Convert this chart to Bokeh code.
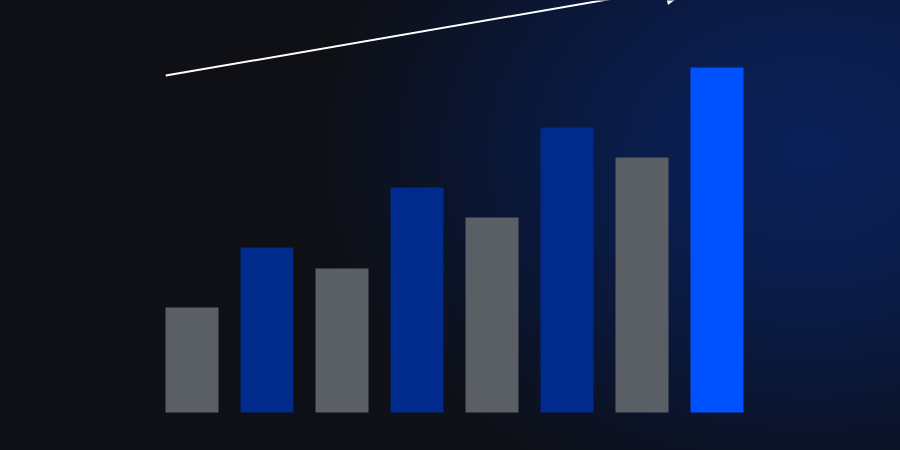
from bokeh.plotting import figure
from bokeh.models import ColumnDataSource, Range1d, Arrow, NormalHead, GlobalInlineStyleSheet
from bokeh.embed import file_html
from bokeh.resources import INLINE

# ---- data ----
periods = ["P1", "P2", "P3", "P4", "P5", "P6", "P7", "P8"]
values = [35, 55, 48, 75, 65, 95, 85, 115]
series_kind = ["base", "growth", "base", "growth", "base", "growth", "base", "peak"]

# trend arrow (data units)
trend_start = (-0.35, 112.3)
trend_end = (6.71, 142.7)

# ---- styles ----
kind_colors = {"base": "#5a5f66", "growth": "#002a8c", "peak": "#0051ff"}
colors = [kind_colors[k] for k in series_kind]

source = ColumnDataSource(dict(
    x=list(range(len(periods))),
    period=periods,
    value=values,
    color=colors,
))

css = GlobalInlineStyleSheet(css="""
html, body {
  background-color: #0e1015;
  background-image: radial-gradient(ellipse 500px 380px at 810px 150px,
      #0a2058 0%, #0a1d4d 30%, #0a1738 60%, #0c1222 84%, #0e1015 100%);
  background-repeat: no-repeat;
  min-height: 100vh;
  overflow: hidden;
}
""")

p = figure(
    width=884, height=434,
    x_range=Range1d(-2.5533, 9.2333),
    y_range=Range1d(-7.333, 137.333),
    output_backend="svg",
    toolbar_location=None,
    min_border=0,
)
p.stylesheets = [css]
p.background_fill_alpha = 0
p.border_fill_alpha = 0
p.outline_line_color = None
p.axis.visible = False
p.grid.visible = False
p.xaxis.visible = False
p.yaxis.visible = False

p.vbar(x="x", top="value", bottom=0, width=0.7067, source=source,
       fill_color="color", line_color=None)

p.add_layout(Arrow(
    x_start=trend_start[0], y_start=trend_start[1],
    x_end=trend_end[0], y_end=trend_end[1],
    line_color="white", line_width=2,
    end=NormalHead(size=30, fill_color="white", line_color="white", line_width=1),
))

open("out.html", "w").write(file_html(p, INLINE))
